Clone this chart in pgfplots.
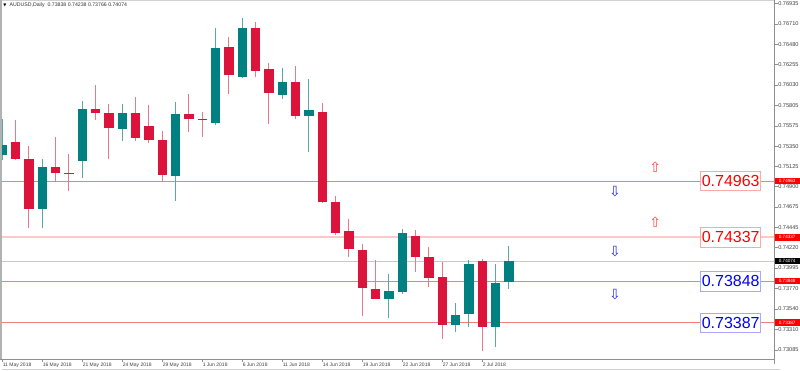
\documentclass[border=0pt]{standalone}
\usepackage{fontspec}
\setmainfont{Liberation Sans}
\newfontfamily\dejavu{DejaVu Sans}
\usepackage{pgfplots}
\pgfplotsset{compat=1.18}
\usepackage{pgfplotstable}
\definecolor{bull}{HTML}{008080}
\definecolor{bear}{HTML}{DC143C}
\definecolor{bullwick}{HTML}{5AA8A8}
\definecolor{bearwick}{HTML}{E47A8E}
\definecolor{coral}{HTML}{F08080}
\definecolor{pinkline}{HTML}{FFC8C8}
\definecolor{closeline}{HTML}{C8C8CE}
\definecolor{axisgray}{HTML}{909090}
\definecolor{redbox}{HTML}{FFA8A8}
\definecolor{bluebox}{HTML}{A8A8FF}
\definecolor{lbl}{HTML}{404040}
\definecolor{uparrow}{HTML}{FF4848}
\definecolor{downarrow}{HTML}{2828FF}

\pgfplotstableread{
i o h l c
0 0.75252 0.75649 0.75197 0.75363
3 0.74648 0.75208 0.74444 0.75119
6 0.75186 0.75853 0.75000 0.75764
9 0.75545 0.75819 0.75408 0.75723
13 0.75022 0.75838 0.74744 0.75712
16 0.75611 0.76665 0.75583 0.76446
18 0.76123 0.76776 0.76109 0.76665
21 0.75923 0.76217 0.75875 0.76061
23 0.75686 0.76098 0.75289 0.75749
29 0.73654 0.73932 0.73443 0.73740
30 0.73729 0.74429 0.73703 0.74381
34 0.73358 0.73603 0.73287 0.73473
35 0.73484 0.74084 0.73343 0.74040
37 0.73336 0.74040 0.73120 0.73832
38 0.73838 0.74238 0.73766 0.74074
}\bulldata

\pgfplotstableread{
i o h l c
1 0.75393 0.75642 0.75197 0.75204
2 0.75204 0.75352 0.74444 0.74655
4 0.75119 0.75456 0.74955 0.75055
5 0.75055 0.75263 0.74855 0.75046
7 0.75761 0.76034 0.75642 0.75723
8 0.75723 0.75819 0.75211 0.75549
10 0.75723 0.75901 0.75408 0.75445
11 0.75578 0.75808 0.75389 0.75419
12 0.75419 0.75519 0.74963 0.75026
14 0.75712 0.75931 0.75511 0.75656
15 0.75653 0.75730 0.75452 0.75645
17 0.76457 0.76561 0.75931 0.76145
19 0.76661 0.76731 0.76123 0.76190
20 0.76205 0.76272 0.75594 0.75945
22 0.76067 0.76242 0.75656 0.75689
24 0.75727 0.75827 0.74715 0.74733
25 0.74733 0.74796 0.74362 0.74381
26 0.74407 0.74537 0.74121 0.74210
27 0.74199 0.74262 0.73462 0.73770
28 0.73759 0.74084 0.73652 0.73654
31 0.74351 0.74418 0.73954 0.74121
32 0.74118 0.74226 0.73787 0.73888
33 0.73899 0.74062 0.73209 0.73358
36 0.74077 0.74092 0.73076 0.73336
}\beardata

\begin{document}
\begin{tikzpicture}[x=1pt,y=1pt]
\path[use as bounding box] (0,0) rectangle (800,371);
\begin{axis}[
  at={(1pt,12pt)}, anchor=south west, scale only axis,
  width=773.5pt, height=358.5pt,
  xmin=-0.0975, xmax=57.915, ymin=0.729833, ymax=0.769705,
  clip mode=individual,
  axis line style={draw=none},
  axis background/.style={fill=white},
  xtick={0,3,...,36},
  xticklabels={11 May 2018,16 May 2018,21 May 2018,24 May 2018,29 May 2018,1 Jun 2018,6 Jun 2018,11 Jun 2018,14 Jun 2018,19 Jun 2018,22 Jun 2018,27 Jun 2018,2 Jul 2018},
  xtick pos=bottom, ytick pos=right, yticklabel pos=right,
  tick align=outside,
  major tick length=3pt,
  tick style={axisgray, line width=0.7pt},
  ytick={0.76935,0.76710,0.76480,0.76255,0.76030,0.75805,0.75575,0.75350,0.75125,0.74900,0.74675,0.74445,0.74220,0.73995,0.73770,0.73540,0.73310,0.73085},
  yticklabels={0.76935,0.76710,0.76480,0.76255,0.76030,0.75805,0.75575,0.75350,0.75125,0.74900,0.74675,0.74445,0.74220,0.73995,0.73770,0.73540,0.73310,0.73085},
  yticklabel style={font=\fontsize{5.6}{6}\selectfont, text=lbl, anchor=west, inner sep=0.6pt},
  xticklabel style={font=\fontsize{5}{6}\selectfont, text=lbl, anchor=north west, inner sep=0.6pt, xshift=-0.3pt},
  /pgf/number format/assume math mode=true,
]
% horizontal price lines
\addplot[closeline, line width=0.8pt] coordinates {(-1,0.74074) (60,0.74074)};
\addplot[coral, line width=0.9pt] coordinates {(-1,0.74963) (60,0.74963)};
\addplot[pinkline, line width=2pt] coordinates {(-1,0.74337) (60,0.74337)};
\addplot[coral, line width=0.9pt] coordinates {(-1,0.73848) (60,0.73848)};
\addplot[coral, line width=0.9pt] coordinates {(-1,0.73387) (60,0.73387)};
% wicks
\addplot[draw=none, mark=none, error bars/.cd, y dir=both, y explicit, error mark=none,
  error bar style={draw=bullwick, line width=1pt}]
  table[x=i, y expr=(\thisrow{h}+\thisrow{l})/2, y error expr=(\thisrow{h}-\thisrow{l})/2] {\bulldata};
\addplot[draw=none, mark=none, error bars/.cd, y dir=both, y explicit, error mark=none,
  error bar style={draw=bearwick, line width=1pt}]
  table[x=i, y expr=(\thisrow{h}+\thisrow{l})/2, y error expr=(\thisrow{h}-\thisrow{l})/2] {\beardata};
% bodies
\addplot[draw=none, mark=none, error bars/.cd, y dir=both, y explicit, error mark=none,
  error bar style={draw=bull, line width=9.4pt}]
  table[x=i, y expr=(\thisrow{o}+\thisrow{c})/2, y error expr={max(abs(\thisrow{o}-\thisrow{c})/2,0.00005)}] {\bulldata};
\addplot[draw=none, mark=none, error bars/.cd, y dir=both, y explicit, error mark=none,
  error bar style={draw=bear, line width=9.4pt}]
  table[x=i, y expr=(\thisrow{o}+\thisrow{c})/2, y error expr={max(abs(\thisrow{o}-\thisrow{c})/2,0.00005)}] {\beardata};
% arrows
\addplot[only marks, color=uparrow, mark=text, text mark={\dejavu\symbol{"21E7}}, text mark as node=true,
  mark options={font=\fontsize{14}{14}\selectfont, text=uparrow}]
  coordinates {(48.97,0.751187) (48.97,0.745070)};
\addplot[only marks, color=downarrow, mark=text, text mark={\dejavu\symbol{"21E9}}, text mark as node=true,
  mark options={font=\fontsize{14}{14}\selectfont, text=downarrow}]
  coordinates {(45.95,0.748462) (45.95,0.741767) (45.95,0.737006)};
% price label boxes
\tikzset{pbox/.style={fill=white, line width=0.8pt, font=\fontsize{16}{16}\selectfont,
  minimum width=60pt, minimum height=19.5pt, inner sep=0pt}}
\node[pbox, draw=redbox, text=red] at (axis cs:54.63,0.74963) {0.74963};
\node[pbox, draw=redbox, text=red] at (axis cs:54.63,0.74337) {0.74337};
\node[pbox, draw=bluebox, text=blue] at (axis cs:54.63,0.73848) {0.73848};
\node[pbox, draw=bluebox, text=blue] at (axis cs:54.63,0.73387) {0.73387};
\coordinate (mA) at (axis cs:57.915,0.74963);
\coordinate (mB) at (axis cs:57.915,0.74337);
\coordinate (mC) at (axis cs:57.915,0.74074);
\coordinate (mD) at (axis cs:57.915,0.73848);
\coordinate (mE) at (axis cs:57.915,0.73387);
\end{axis}
% frame
\draw[gray!35, line width=0.8pt] (0,370.6) -- (774.5,370.6);
\fill[gray!60] (0,12) rectangle (2,371);
\draw[axisgray, line width=0.9pt] (0,12) -- (774.5,12);
\draw[axisgray, line width=0.9pt] (774.5,7) -- (774.5,371);
\draw[gray!35, line width=0.8pt] (2,1.5) -- (780,1.5);
% right axis price markers
\tikzset{mk/.style={anchor=west, minimum width=25pt, minimum height=6.5pt, inner sep=0pt,
  text=white, font=\fontsize{4.6}{5}\selectfont}}
\node[mk, fill=red] at (mA) {0.74963};
\node[mk, fill=red] at (mB) {0.74337};
\node[mk, fill=black] at (mC) {0.74074};
\node[mk, fill=red] at (mD) {0.73848};
\node[mk, fill=red] at (mE) {0.73387};
% title
\node[inner sep=0pt, font=\dejavu\fontsize{4}{4}\selectfont] at (5,366) {\symbol{"25BC}};
\node[anchor=west, inner sep=0pt, text=black!80, font=\fontsize{5.2}{6}\selectfont] at (9.5,366) {AUDUSD,Daily\ \ 0.73838 0.74238 0.73766 0.74074};
\end{tikzpicture}
\end{document}
